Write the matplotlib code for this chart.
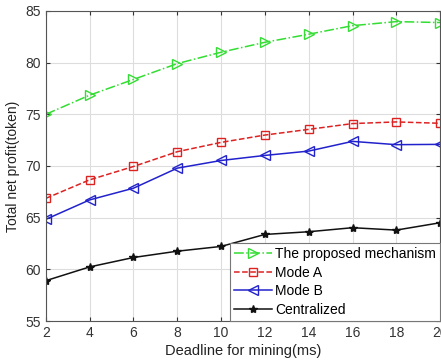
import matplotlib
matplotlib.use("Agg")
import matplotlib.pyplot as plt

plt.rcParams['font.family'] = ['Liberation Sans', 'DejaVu Sans']

deadline = [2, 4, 6, 8, 10, 12, 14, 16, 18, 20]
proposed = [75.0, 76.85, 78.37, 79.9, 81.0, 81.96, 82.74, 83.57, 83.96, 83.87]
mode_a = [66.87, 68.66, 69.95, 71.38, 72.28, 72.99, 73.54, 74.1, 74.26, 74.13]
mode_b = [64.84, 66.72, 67.85, 69.79, 70.53, 71.02, 71.44, 72.38, 72.06, 72.09]
central = [58.91, 60.24, 61.15, 61.76, 62.22, 63.38, 63.64, 64.03, 63.8, 64.51]
labels = ['The proposed mechanism', 'Mode A', 'Mode B', 'Centralized']

fig = plt.figure(figsize=(4.41, 3.62), dpi=100)
ax = fig.add_axes([0.104, 0.113, 0.894, 0.857])

ax.plot(deadline, proposed, '-.', color='#33dd33', marker='>', mfc='none', ms=7, lw=1.1, label=labels[0])
ax.plot(deadline, mode_a, '--', color='#dd2222', marker='s', mfc='none', ms=6, lw=1.1, label=labels[1])
ax.plot(deadline, mode_b, '-', color='#2222cc', marker='<', mfc='none', ms=7, lw=1.1, label=labels[2])
ax.plot(deadline, central, '-', color='#111111', marker='*', ms=6, lw=1.1, label=labels[3])

ax.set_xlim(2, 20)
ax.set_ylim(55, 85)
ax.set_xticks(deadline)
ax.set_yticks([55, 60, 65, 70, 75, 80, 85])
ax.grid(True, color='#dddddd', lw=0.8)
ax.tick_params(direction='in', top=True, right=True, labelsize=10, length=3, colors='#333333')
for s in ax.spines.values():
    s.set_color('#555555')
    s.set_linewidth(0.8)
ax.set_xlabel('Deadline for mining(ms)', fontsize=10.5, color='#222222', labelpad=3)
ax.set_ylabel('Total net profit(token)', fontsize=10, color='#222222', labelpad=4)

leg = ax.legend(loc='lower right', fontsize=10, frameon=True, fancybox=False,
                borderaxespad=0, handlelength=2.7, handletextpad=0.25,
                labelspacing=0.33, borderpad=0.3, framealpha=1)
leg.get_frame().set_edgecolor('#777777')
leg.get_frame().set_linewidth(0.8)

fig.savefig('out.png', dpi=100)
